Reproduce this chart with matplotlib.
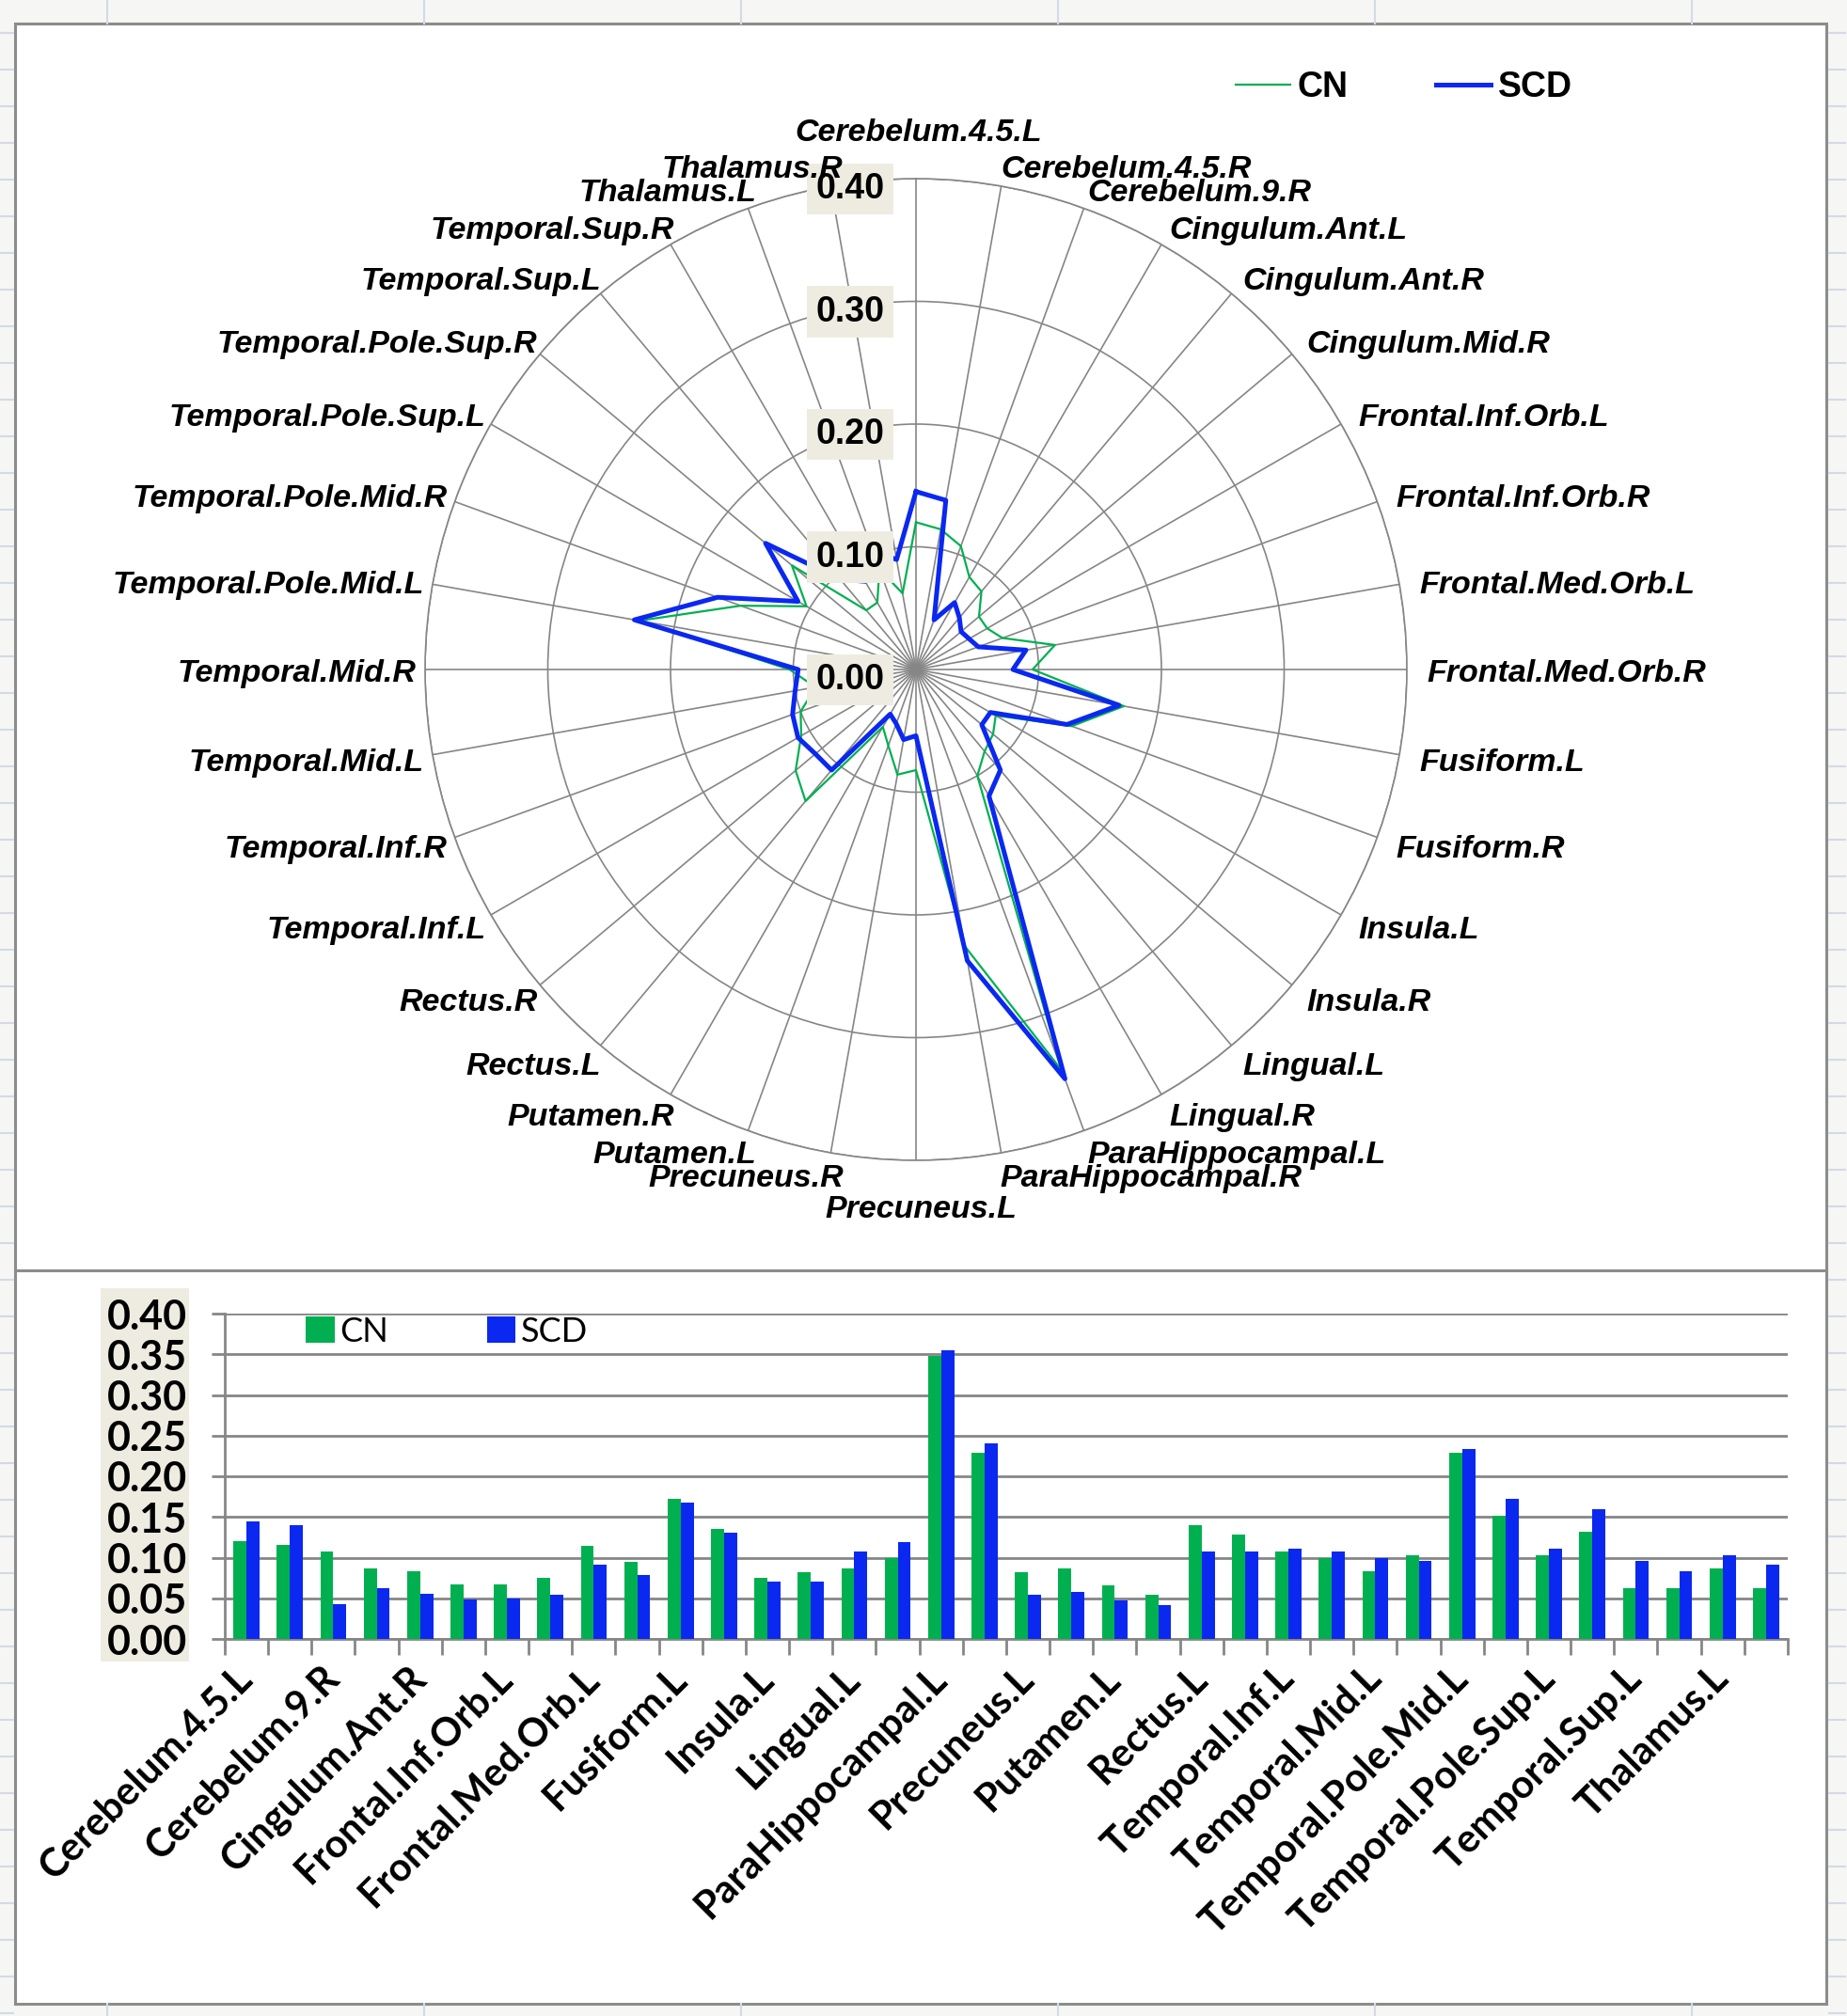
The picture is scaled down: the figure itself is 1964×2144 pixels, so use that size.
import numpy as np
import matplotlib.pyplot as plt
from matplotlib.patches import Rectangle
from matplotlib.lines import Line2D

regions = ['Cerebelum.4.5.L', 'Cerebelum.4.5.R', 'Cerebelum.9.R', 'Cingulum.Ant.L',
           'Cingulum.Ant.R', 'Cingulum.Mid.R', 'Frontal.Inf.Orb.L', 'Frontal.Inf.Orb.R',
           'Frontal.Med.Orb.L', 'Frontal.Med.Orb.R', 'Fusiform.L', 'Fusiform.R',
           'Insula.L', 'Insula.R', 'Lingual.L', 'Lingual.R',
           'ParaHippocampal.L', 'ParaHippocampal.R', 'Precuneus.L', 'Precuneus.R',
           'Putamen.L', 'Putamen.R', 'Rectus.L', 'Rectus.R',
           'Temporal.Inf.L', 'Temporal.Inf.R', 'Temporal.Mid.L', 'Temporal.Mid.R',
           'Temporal.Pole.Mid.L', 'Temporal.Pole.Mid.R', 'Temporal.Pole.Sup.L',
           'Temporal.Pole.Sup.R', 'Temporal.Sup.L', 'Temporal.Sup.R',
           'Thalamus.L', 'Thalamus.R']
cn = [0.120, 0.116, 0.107, 0.087, 0.083, 0.067, 0.067, 0.075, 0.115, 0.095, 0.172, 0.135,
      0.075, 0.082, 0.087, 0.100, 0.348, 0.229, 0.082, 0.087, 0.066, 0.054, 0.140, 0.128,
      0.108, 0.100, 0.083, 0.103, 0.229, 0.152, 0.103, 0.132, 0.063, 0.063, 0.087, 0.063]
scd = [0.145, 0.140, 0.043, 0.063, 0.055, 0.048, 0.050, 0.054, 0.091, 0.079, 0.168, 0.131,
       0.070, 0.070, 0.107, 0.119, 0.355, 0.241, 0.054, 0.058, 0.047, 0.042, 0.107, 0.107,
       0.111, 0.107, 0.100, 0.096, 0.233, 0.172, 0.111, 0.160, 0.096, 0.083, 0.103, 0.091]
radar_ticks = [0.0, 0.1, 0.2, 0.3, 0.4]
bar_ticks = [0.0, 0.05, 0.10, 0.15, 0.20, 0.25, 0.30, 0.35, 0.40]

GREEN = '#00B050'
BLUE = '#0A28F0'
GRID = '#868686'
BEIGE = '#EEECE1'
ARIAL = ['Liberation Sans', 'DejaVu Sans']
CALIBRI = ['Lato', 'DejaVu Sans']

W, H = 1965, 2144
fig = plt.figure(figsize=(W / 100, H / 100), dpi=100, facecolor='#F6F6F4')


def fx(px):
    return px / W


def fy(py):
    return 1 - py / H


# faint spreadsheet cell marks around the charts
for px in range(114, W, 337):
    fig.add_artist(Line2D([fx(px), fx(px)], [fy(0), fy(25)], color='#D3DAE6', lw=1.5))
    fig.add_artist(Line2D([fx(px), fx(px)], [fy(2131), fy(H)], color='#D3DAE6', lw=1.5))
for py in range(35, H, 39):
    fig.add_artist(Line2D([fx(0), fx(14)], [fy(py), fy(py)], color='#D3DAE6', lw=1.5))
    fig.add_artist(Line2D([fx(1945), fx(1962)], [fy(py), fy(py)], color='#D3DAE6', lw=1.5))

# chart panels
for top, bottom in [(25, 1351), (1351, 2131)]:
    fig.add_artist(Rectangle((fx(16), fy(bottom)), fx(1942) - fx(16), fy(top) - fy(bottom),
                             transform=fig.transFigure, facecolor='white',
                             edgecolor='#8C8C8C', lw=2.2, zorder=-2))

# ---- radar chart ----
cx, cy, rad = 974, 712, 522
ax = fig.add_axes([fx(cx - rad), fy(cy + rad), 2 * rad / W, 2 * rad / H], projection='polar')
ax.set_facecolor('none')
ax.set_theta_zero_location('N')
ax.set_theta_direction(-1)
angles = np.arange(len(regions)) * 2 * np.pi / len(regions)
ax.set_xticks(angles)
ax.set_xticklabels([])
ax.set_ylim(0, 0.4)
ax.set_yticks(radar_ticks[1:])
ax.set_yticklabels([])
ax.grid(color=GRID, lw=1.2)
ax.spines['polar'].set_color(GRID)
ax.spines['polar'].set_linewidth(1.2)

loop = np.append(angles, angles[0])
h_cn, = ax.plot(loop, np.append(cn, cn[0]), color=GREEN, lw=1.6, zorder=3)
h_scd, = ax.plot(loop, np.append(scd, scd[0]), color=BLUE, lw=3.6, zorder=4)

for i, name in enumerate(regions):
    deg = i * 360 / len(regions)
    if deg == 0:
        ha, va, off = 'center', 'bottom', (2, 4)
    elif deg == 180:
        ha, va, off = 'center', 'top', (4, -7)
    elif deg < 180:
        ha, va = 'left', 'center'
        off = (-4, -3.5 * (1 + np.cos(angles[i])))
    else:
        ha, va = 'right', 'center'
        off = (13, -3.5 * (1 + np.cos(angles[i])))
    ax.annotate(name, xy=(angles[i], 0.421), xytext=off, textcoords='offset points',
                ha=ha, va=va, fontsize=24.5, fontweight='bold', fontstyle='italic',
                family=ARIAL, annotation_clip=False, zorder=6)

for r in radar_ticks:
    ax.annotate(f'{r:.2f}', xy=(0, r), xytext=(-24, -8), textcoords='offset points',
                ha='right', va='center', fontsize=27, fontweight='bold', family=ARIAL,
                bbox=dict(boxstyle='square,pad=0.25', fc=BEIGE, ec='none'), zorder=5)

fig.legend([h_cn, h_scd], ['CN', 'SCD'], loc='center left',
           bbox_to_anchor=(fx(1314), fy(93)), ncol=2, frameon=False,
           prop=dict(family=ARIAL, weight='bold', size=27),
           handlelength=1.55, handletextpad=0.2, columnspacing=2.5,
           borderpad=0, borderaxespad=0)

# ---- bar chart ----
fig.add_artist(Rectangle((fx(107), fy(1767)), fx(201) - fx(107), fy(1370) - fy(1767),
                         transform=fig.transFigure, facecolor=BEIGE, edgecolor='none',
                         zorder=-1))
bx = fig.add_axes([fx(239), fy(1743), fx(1901) - fx(239), fy(1397) - fy(1743)])
bx.set_facecolor('none')
x = np.arange(len(regions))
bx.bar(x - 0.15, cn, 0.3, color=GREEN, label='CN', zorder=3)
bx.bar(x + 0.15, scd, 0.3, color=BLUE, label='SCD', zorder=3)
bx.set_xlim(-0.5, len(regions) - 0.5)
bx.set_ylim(0, 0.4)
bx.set_yticks(bar_ticks)
bx.set_yticklabels([f'{v:.2f}' for v in bar_ticks], fontsize=31, fontweight='bold',
                   family=CALIBRI)
bx.grid(axis='y', color=GRID, lw=2)
bx.set_axisbelow(True)
bx.tick_params(axis='y', length=10, width=2, color=GRID, pad=19)
bx.set_xticks(x[::2])
bx.set_xticklabels(regions[::2], rotation=45, ha='right', va='center',
                   rotation_mode='anchor', fontsize=30, fontweight='bold', family=CALIBRI)
bx.set_xticks(np.arange(-0.5, len(regions), 1), minor=True)
bx.tick_params(axis='x', which='major', length=0, pad=26)
bx.tick_params(axis='x', which='minor', length=12, width=2, color=GRID)
for s in ['top', 'right']:
    bx.spines[s].set_visible(False)
for s in ['left', 'bottom']:
    bx.spines[s].set_color(GRID)
    bx.spines[s].set_linewidth(2)

bx.legend(loc='center left', bbox_to_anchor=(fx(325 - 239) / bx.get_position().width, 0.945),
          ncol=2, frameon=False, prop=dict(family=CALIBRI, size=26),
          handlelength=0.85, handleheight=0.85, handletextpad=0.15, columnspacing=2.9,
          borderpad=0, borderaxespad=0)

fig.savefig('out.png', dpi=100, facecolor=fig.get_facecolor())
